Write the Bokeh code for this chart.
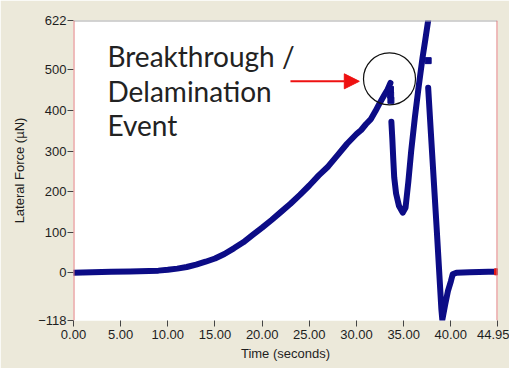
from bokeh.plotting import figure
from bokeh.models import Range1d, FixedTicker, NumeralTickFormatter, Span, Arrow, NormalHead
from bokeh.core.properties import value
from bokeh.embed import file_html
from bokeh.resources import INLINE

# Scratch test: lateral force vs. time
# ramp-up until the coating gives way
ramp_t = [0, 2, 4, 6, 8, 9, 10, 11, 12, 13, 14, 15, 16, 17, 18, 19, 20, 21, 22,
          23, 24, 25, 26, 27, 28, 29, 30, 30.5, 31, 31.5, 32, 32.5, 33, 33.3, 33.6]
ramp_f = [0, 1, 2, 3, 4, 5, 7, 10, 14, 20, 27, 35, 46, 60, 75, 93, 111, 130, 150,
          170, 192, 215, 240, 262, 290, 318, 342, 352, 366, 378, 398, 420, 440, 452, 468]

# scattered samples right at the breakthrough
burst_t = [33.6, 33.62, 33.65, 37.6]
burst_f = [452, 438, 425, 523]

# drop after breakthrough and the climb off the top of the scale
drop_t = [33.7, 33.8, 33.9, 34.0, 34.2, 34.5, 34.9, 35.2, 35.5, 35.8, 36.2, 36.6,
          37.0, 37.3, 37.6, 37.7]
drop_f = [372, 330, 280, 235, 195, 165, 148, 160, 225, 300, 385, 460,
          530, 575, 622, 660]

# final collapse and return to zero
tail_t = [37.6, 37.9, 38.2, 38.5, 38.8, 39.0, 39.1, 39.4, 39.7, 40.0, 40.2,
          40.6, 42, 44, 44.95]
tail_f = [456, 340, 225, 110, -10, -90, -116, -79, -45, -22, -4,
          0, 1, 2, 2]

end_t = [44.95]
end_f = [2]

x_ticks = [0, 5, 10, 15, 20, 25, 30, 35, 40, 44.95]
y_ticks = [-118, 0, 100, 200, 300, 400, 500, 622]

note_lines = ["Breakthrough /", "Delamination", "Event"]

NAVY = "#0c0c86"
BEIGE = "#ECE9DA"
TICK_FONT = "Liberation Sans"

p = figure(width=509, height=368, output_backend="svg", toolbar_location=None,
           x_range=Range1d(0, 44.95), y_range=Range1d(-118, 622),
           min_border_left=73, min_border_right=12, min_border_top=20,
           min_border_bottom=48)
p.border_fill_color = BEIGE
p.background_fill_color = "white"
p.outline_line_color = None
p.xgrid.visible = False
p.ygrid.visible = False

for ax in (p.xaxis[0], p.yaxis[0]):
    ax.axis_line_color = None
    ax.major_tick_in = 0
    ax.major_tick_out = 6
    ax.major_tick_line_color = "#444444"
    ax.minor_tick_line_color = None
    ax.major_label_text_font = TICK_FONT
    ax.major_label_text_font_size = "13px"
    ax.major_label_text_color = "#1e1e1e"
    ax.axis_label_text_font = TICK_FONT
    ax.axis_label_text_font_size = "13px"
    ax.axis_label_text_font_style = "normal"
    ax.axis_label_text_color = "#1e1e1e"

p.xaxis.ticker = FixedTicker(ticks=x_ticks)
p.xaxis.formatter = NumeralTickFormatter(format="0.00")
p.xaxis.axis_label = "Time (seconds)"
p.xaxis.major_label_standoff = 3
p.xaxis.axis_label_standoff = 4

p.yaxis.ticker = FixedTicker(ticks=y_ticks)
p.yaxis.axis_label = "Lateral Force (µN)"
p.yaxis.major_label_standoff = 1
p.yaxis.axis_label_standoff = 8

# top edge of the plot area and the two red cursor lines
p.add_layout(Span(location=622, dimension="width", line_color="#a8a8a8", line_width=2))
p.add_layout(Span(location=0, dimension="height", line_color="#e07a7a", line_width=2))
p.add_layout(Span(location=44.95, dimension="height", line_color="#e07a7a", line_width=2))

line_kw = dict(line_color=NAVY, line_width=6, line_join="round", line_cap="round")
p.line(ramp_t, ramp_f, **line_kw)
p.line(drop_t, drop_f, **line_kw)
p.line(tail_t, tail_f, **line_kw)
p.scatter(burst_t, burst_f, size=6, marker="square", color=NAVY)
p.scatter(end_t, end_f, size=6, marker="square", color="#e01818")

# annotation
p.text(x=[3.6, 3.6, 3.6], y=[535, 449, 364], text=note_lines,
       text_font=value("Lato"), text_font_size="28px", text_color="#222222",
       text_baseline="alphabetic")
p.add_layout(Arrow(x_start=23.0, y_start=472, x_end=30.3, y_end=472,
                   line_color="#ee1111", line_width=2,
                   end=NormalHead(size=15, fill_color="#ee1111", line_color="#ee1111")))
p.scatter([33.5], [478], marker="circle", size=52, fill_color=None,
          line_color="#111111", line_width=1.2)

open("out.html", "w").write(file_html(p, INLINE))
